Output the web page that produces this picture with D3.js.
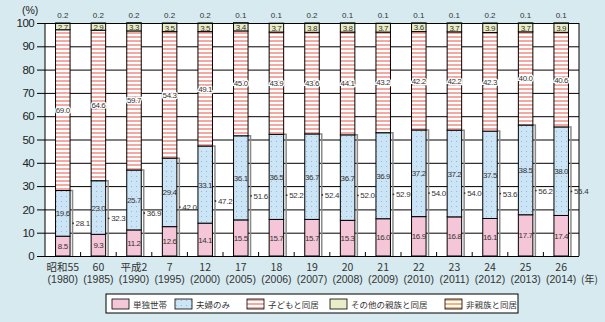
<html>
<meta http-equiv="content-type" content="text/html; charset=UTF8">
<style>
  body {margin:0; background:#d6eaf0;}
  text {font-family:"Liberation Sans", Arial, "Noto Sans CJK JP", sans-serif;}
  .jp {font-family:"Noto Sans CJK JP", sans-serif;}
</style>
<body>
<svg id="svg1" width="605" height="322"></svg>
<script src="https://cdn.jsdelivr.net/npm/d3@7"></script>
<script>
// categories (two-line labels)
var years=["昭和55","60","平成2","7","12","17","18","19","20","21","22","23","24","25","26"];
var seireki=["(1980)","(1985)","(1990)","(1995)","(2000)","(2005)","(2006)","(2007)","(2008)","(2009)","(2010)","(2011)","(2012)","(2013)","(2014)"];
// series
var tandoku=[8.5,9.3,11.2,12.6,14.1,15.5,15.7,15.7,15.3,16.0,16.9,16.8,16.1,17.7,17.4];
var fufu=[19.6,23.0,25.7,29.4,33.1,36.1,36.5,36.7,36.7,36.9,37.2,37.2,37.5,38.5,38.0];
var kodomo=[69.0,64.6,59.7,54.3,49.1,45.0,43.9,43.6,44.1,43.2,42.2,42.2,42.3,40.0,40.6];
var sonota=[2.7,2.9,3.3,3.5,3.5,3.4,3.7,3.8,3.8,3.7,3.6,3.7,3.9,3.7,3.9];
var hishinzoku=[0.2,0.2,0.2,0.2,0.2,0.1,0.1,0.2,0.1,0.1,0.1,0.1,0.2,0.1,0.1];
// 単独世帯+夫婦のみ labels
var kei=[28.1,32.3,36.9,42.0,47.2,51.6,52.2,52.4,52.0,52.9,54.0,54.0,53.6,56.2,55.4];
var yTicks=[0,10,20,30,40,50,60,70,80,90,100];

var keys=["tandoku","fufu","kodomo","sonota","hishinzoku"];
var names={tandoku:"単独世帯",fufu:"夫婦のみ",kodomo:"子どもと同居",sonota:"その他の親族と同居",hishinzoku:"非親族と同居"};
var fills={tandoku:"#f5c6d7",fufu:"url(#dots)",kodomo:"url(#stripes)",sonota:"#e9eec6",hishinzoku:"url(#ostripes)"};

var data=years.map(function(y,i){
	return {year:y,tandoku:tandoku[i],fufu:fufu[i],kodomo:kodomo[i],sonota:sonota[i],hishinzoku:hishinzoku[i],kei:kei[i]};
});

var svg=d3.select("#svg1");
var pl=45,pr=579,pt=23,pb=256;

var defs=svg.append("defs");
var p=defs.append("pattern").attr("id","dots").attr("width",5).attr("height",5).attr("patternUnits","userSpaceOnUse");
p.append("rect").attr("width",5).attr("height",5).attr("fill","#cbe4f6");
p.append("circle").attr("cx",1.5).attr("cy",1.5).attr("r",0.55).attr("fill","#8fb0cc");
p=defs.append("pattern").attr("id","stripes").attr("width",4).attr("height",4).attr("patternUnits","userSpaceOnUse");
p.append("rect").attr("width",4).attr("height",4).attr("fill","#fff");
p.append("rect").attr("width",4).attr("height",2).attr("fill","#f3a9a2");
p=defs.append("pattern").attr("id","ostripes").attr("width",4).attr("height",4).attr("patternUnits","userSpaceOnUse");
p.append("rect").attr("width",4).attr("height",4).attr("fill","#fff");
p.append("rect").attr("width",4).attr("height",2).attr("fill","#f4b47c");

var x=d3.scaleBand().domain(years).range([pl,pr]).padding(0);
var y=d3.scaleLinear().domain([0,100]).range([pb,pt]);
var bw=14.5;
var bx=function(d){return x(d.data.year)+x.bandwidth()/2-bw/2;};

// plot area
svg.append("rect").attr("x",pl).attr("y",pt).attr("width",pr-pl).attr("height",pb-pt).attr("fill","#fff");

// y axis / grid
var ya=svg.append("g").attr("transform","translate("+pr+",0)")
	.call(d3.axisLeft(y).tickValues(yTicks).tickSize(pr-pl+8).tickPadding(3));
ya.select(".domain").remove();
ya.selectAll("line").attr("stroke","#000").attr("stroke-width",1);
ya.selectAll("text").attr("font-size",11.5).attr("fill","#222").style("letter-spacing","-0.6px")
	.style("font-family","'Liberation Sans',Arial,sans-serif");
svg.append("line").attr("x1",pl).attr("x2",pl).attr("y1",pt).attr("y2",pb).attr("stroke","#000");
svg.append("line").attr("x1",pr).attr("x2",pr).attr("y1",pt).attr("y2",pb).attr("stroke","#000");

// bottom tick marks at band boundaries
svg.append("g").selectAll("line").data(years.slice(1)).join("line")
	.attr("x1",function(d){return x(d);}).attr("x2",function(d){return x(d);})
	.attr("y1",pb).attr("y2",pb-4).attr("stroke","#000");

var series=d3.stack().keys(keys)(data);

// shadow bracket right of the single+couple part
svg.append("g").selectAll("path").data(series[1]).join("path")
	.attr("d",function(d){var r=bx(d)+bw;return "M"+r+","+y(d[1])+"h2.5v"+(y(0)-y(d[1]));})
	.attr("fill","none").attr("stroke","#8a8a8a").attr("stroke-width",1.5);

svg.append("g").selectAll("g").data(series).join("g")
	.attr("fill",function(s){return fills[s.key];})
	.selectAll("rect").data(function(s){return s;}).join("rect")
	.attr("x",bx).attr("width",bw)
	.attr("y",function(d){return y(d[1]);})
	.attr("height",function(d){return y(d[0])-y(d[1]);})
	.attr("stroke","#000").attr("stroke-width",1);

// segment labels
var inner=[series[0],series[1],series[2],series[3]];
inner.forEach(function(s){
	var g=svg.append("g");
	g.selectAll("text").data(s).join("text")
		.attr("x",function(d){return bx(d)+bw/2;})
		.attr("y",function(d){return (y(d[0])+y(d[1]))/2+3;})
		.attr("text-anchor","middle").attr("font-size",8).attr("fill","#333")
		.style("letter-spacing","-0.4px")
		.attr("stroke",s.key=="kodomo"?"#fff":"none").attr("stroke-width",2.5).attr("paint-order","stroke")
		.text(function(d){return (d[1]-d[0]).toFixed(1);});
});
// non-kin labels above the plot
svg.append("g").selectAll("text").data(series[4]).join("text")
	.attr("x",function(d){return bx(d)+bw/2;}).attr("y",18)
	.attr("text-anchor","middle").attr("font-size",8).attr("fill","#333")
	.text(function(d){return (d[1]-d[0]).toFixed(1);});

// single+couple total labels
var kg=svg.append("g").selectAll("g").data(data).join("g")
	.attr("transform",function(d){return "translate("+(x(d.year)+x.bandwidth()/2+bw/2+3)+","+y(d.kei/2)+")";});
kg.append("circle").attr("r",0.9).attr("fill","#333");
kg.append("text").attr("x",2.5).attr("y",3).attr("font-size",8).attr("fill","#333")
	.style("letter-spacing","-0.3px").text(function(d){return d.kei.toFixed(1);});

// x labels
var xl=svg.append("g").selectAll("text").data(years).join("text")
	.attr("x",function(d){return x(d)+x.bandwidth()/2;})
	.attr("text-anchor","middle").attr("font-size",10.5).attr("fill","#333");
xl.append("tspan").attr("class","jp").attr("x",function(d){return x(d)+x.bandwidth()/2;}).attr("y",271).text(function(d){return d;});
xl.append("tspan").attr("x",function(d){return x(d)+x.bandwidth()/2;}).attr("y",283).text(function(d,i){return seireki[i];});
svg.append("text").attr("class","jp").attr("x",581).attr("y",283).attr("font-size",10).attr("fill","#333").text("(年)");
svg.append("text").attr("x",22).attr("y",14).attr("font-size",10.5).attr("fill","#222").text("(%)");

// legend
svg.append("rect").attr("x",106).attr("y",294).attr("width",412).attr("height",19).attr("fill","#fff").attr("stroke","#000");
var lx=[112,175,247,330,445];
var lg=svg.append("g").selectAll("g").data(keys).join("g")
	.attr("transform",function(d,i){return "translate("+lx[i]+",299)";});
lg.append("rect").attr("width",17).attr("height",10).attr("fill",function(d){return fills[d];}).attr("stroke","#000").attr("stroke-width",0.8);
lg.append("text").attr("class","jp").attr("x",21).attr("y",9).attr("font-size",8.5).attr("fill","#333").text(function(d){return names[d];});
</script>
</body>
</html>
